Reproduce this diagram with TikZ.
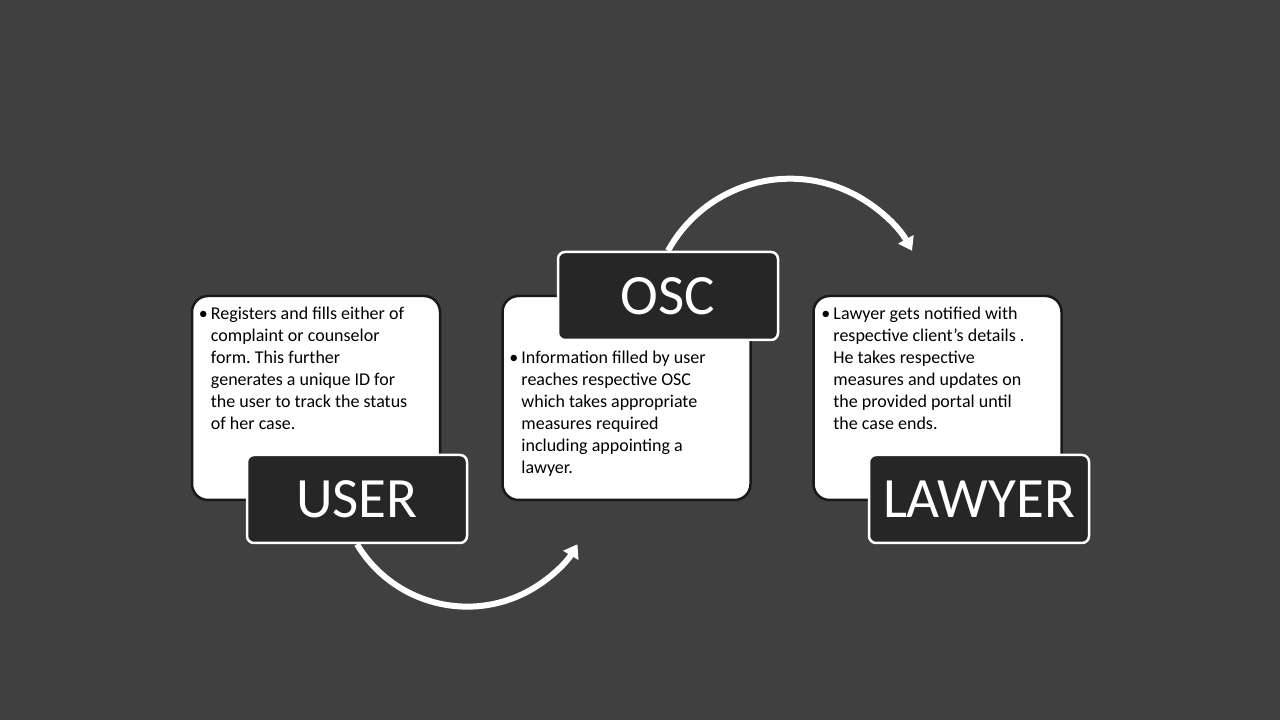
\documentclass[tikz,border=0pt]{standalone}
\usepackage{fontspec}
\setmainfont{Carlito}
\usetikzlibrary{arrows.meta, positioning}

\definecolor{bg}{HTML}{404040}
\definecolor{tagfill}{HTML}{262626}

\tikzset{
  card/.style={draw=black!90, fill=white, line width=2.5pt, rounded corners=16pt,
    minimum width=248pt, minimum height=204pt},
  tag/.style={draw=white, fill=tagfill, line width=2.5pt, rounded corners=7pt,
    minimum width=220pt, minimum height=88pt, text=white,
    font=\fontsize{57}{68}\selectfont},
  txt/.style={align=left, inner sep=0pt, anchor=north west,
    font=\fontsize{18}{22}\selectfont\frenchspacing},
  flow/.style={draw=white, line width=6pt, -{Triangle[width=17pt,length=13pt]}}
}
\newcommand{\bul}{\llap{\textbullet\hspace{3pt}}}

\begin{document}
\begin{tikzpicture}[x=1pt, y=1pt]
  \fill[bg] (0,0) rectangle (1280,720);
  \useasboundingbox (0,0) rectangle (1280,720);

  % Cards
  \node[card] (userbox) at (316,322) {};
  \node[txt] (usertxt) at ([shift={(20,-12)}]userbox.north west)
    {\bul Registers and fills either of\\ complaint or counselor\\ form. This further\\
     generates a unique ID for\\ the user to track the status\\ of her case.};
  \node[tag] (user) at (357,221) {USER};

  \node[card] (oscbox) at (626.5,322) {};
  \node[txt] (osctxt) at ([shift={(20,-56)}]oscbox.north west)
    {\bul Information filled by user\\ reaches respective OSC\\ which takes appropriate\\
     measures required\\ including appointing a\\ lawyer.};
  \node[tag] (osc) at (668,424) {OSC};

  \node[card] (lawbox) at (937.5,322) {};
  \node[txt] (lawtxt) at ([shift={(21,-12)}]lawbox.north west)
    {\bul Lawyer gets notified with\\ respective client’s details .\\ He takes respective\\
     measures and updates on\\ the provided portal until\\ the case ends.};
  \node[tag] (lawyer) at (979,221) {LAWYER};

  % Edges
  \draw[flow] (user.south) arc[start angle=211, end angle=329, radius=128.6pt];
  \draw[flow] (osc.north) arc[start angle=151.1, end angle=28.9, radius=139.4pt];
\end{tikzpicture}
\end{document}
